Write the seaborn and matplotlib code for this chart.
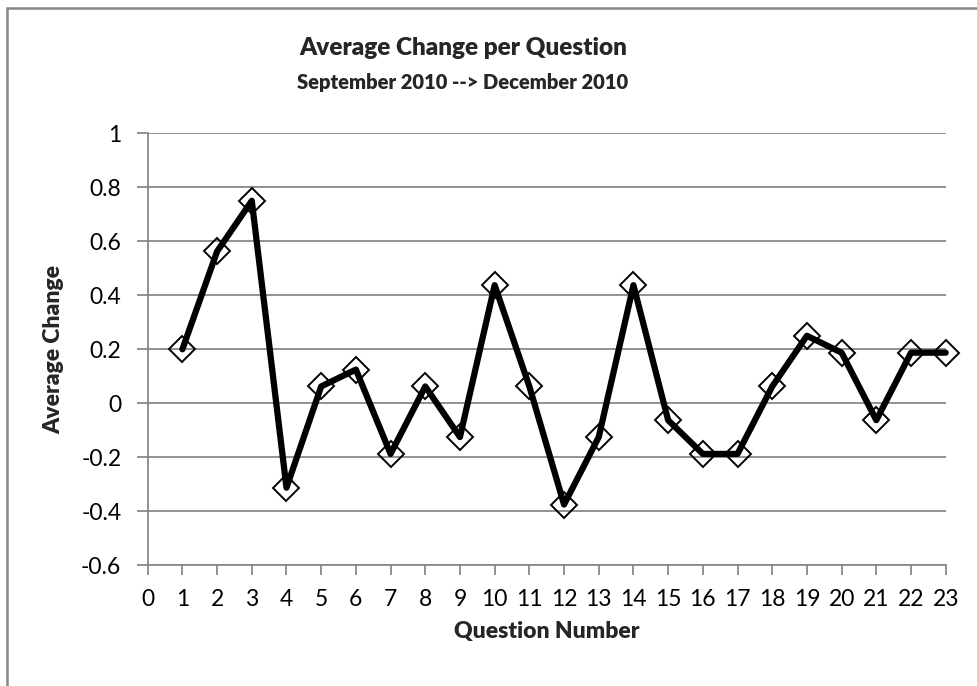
import matplotlib
matplotlib.use("Agg")
import matplotlib.pyplot as plt
import seaborn as sns
import pandas as pd
from matplotlib.patches import Rectangle

# Data
questions = list(range(1, 24))
avg_change = [0.2, 0.5625, 0.75, -0.3125, 0.0625, 0.125, -0.1875, 0.0625, -0.125,
              0.4375, 0.0625, -0.375, -0.125, 0.4375, -0.0625, -0.1875, -0.1875,
              0.0625, 0.25, 0.1875, -0.0625, 0.1875, 0.1875]
x_ticks = list(range(0, 24))
y_ticks = [-0.6, -0.4, -0.2, 0, 0.2, 0.4, 0.6, 0.8, 1]
y_tick_labels = ["-0.6", "-0.4", "-0.2", "0", "0.2", "0.4", "0.6", "0.8", "1"]
title = "Average Change per Question"
subtitle = "September 2010 --> December 2010"
x_label = "Question Number"
y_label = "Average Change"

sns.set_theme(style="white")
plt.rcParams['font.family'] = ['Lato', 'DejaVu Sans']

df = pd.DataFrame({"Question": questions, "Change": avg_change})

fig = plt.figure(figsize=(9.77, 6.86), dpi=100)
ax = fig.add_axes([147.7 / 977, 1 - 565.3 / 686, (945.7 - 147.7) / 977, (565.3 - 133.3) / 686])

grid_c = "#898989"
sns.lineplot(data=df, x="Question", y="Change", ax=ax, color="black", linewidth=4.5,
             marker="D", markersize=13, markerfacecolor="none",
             markeredgecolor="black", markeredgewidth=1.4, zorder=3, clip_on=False)

ax.set_xlim(0, 23)
ax.set_ylim(-0.6, 1)
ax.set_xticks(x_ticks)
ax.set_xticklabels([str(t) for t in x_ticks])
ax.set_yticks(y_ticks)
ax.set_yticklabels(y_tick_labels)

ax.yaxis.grid(True, color=grid_c, linewidth=1.3)
ax.xaxis.grid(False)
ax.set_axisbelow(True)

for s in ["top", "right"]:
    ax.spines[s].set_visible(False)
for s in ["left", "bottom"]:
    ax.spines[s].set_color(grid_c)
    ax.spines[s].set_linewidth(1.3)

ax.tick_params(axis="x", direction="out", length=7, width=1.3, color=grid_c,
               labelsize=16.5, pad=10, labelcolor="black", bottom=True)
ax.tick_params(axis="y", direction="out", length=8, width=1.3, color=grid_c,
               labelsize=16.5, pad=11, labelcolor="black", left=True)

ax.set_xlabel(x_label, fontsize=16.5, fontweight="heavy", labelpad=8)
ax.set_ylabel(y_label, fontsize=16.5, fontweight="heavy", labelpad=12)

fig.text(463 / 977, 1 - 48 / 686, title, ha="center", va="center",
         fontsize=17.5, fontweight="heavy")
fig.text(463 / 977, 1 - 82 / 686, subtitle, ha="center", va="center",
         fontsize=14.5, fontweight="heavy")

fig.add_artist(Rectangle((7 / 977, -0.1), 1.2, 1 - 8 / 686 + 0.1,
                         transform=fig.transFigure, fill=False,
                         edgecolor="#888888", linewidth=1.8))

fig.savefig("out.png", dpi=100)
